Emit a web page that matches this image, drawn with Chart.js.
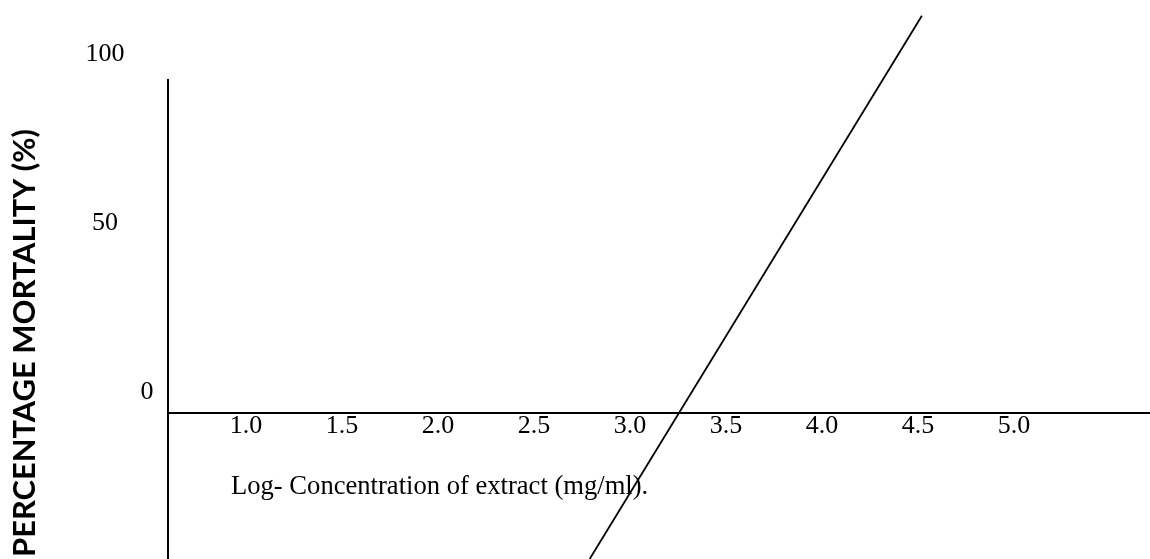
<!DOCTYPE html>
<html><head><meta charset="utf-8">
<script src="https://cdn.jsdelivr.net/npm/chart.js@4/dist/chart.umd.min.js"></script>
<style>html,body{margin:0;padding:0;background:#fff;overflow:hidden}</style>
</head><body><canvas id="c" width="1150" height="559"></canvas>
<script>
// ---- data ----
const xTicks = [1.0, 1.5, 2.0, 2.5, 3.0, 3.5, 4.0, 4.5, 5.0];
const yTicks = [0, 50, 100];
const logConcentration = [2.79, 4.52];
const mortality = [-43.2, 117.5];
const xTitle = 'Log- Concentration of extract (mg/ml).';
const yTitle = 'PERCENTAGE MORTALITY (%)';
const xRange = [0.594, 5.708];
const yRange = [-43.2, 98.5];

const SERIF = '"Liberation Serif", "Times New Roman", serif';

const annot = {
  id: 'annot',
  afterDraw(chart) {
    const { ctx, scales: { y } } = chart;
    ctx.save();
    ctx.fillStyle = '#000';
    // y tick labels
    ctx.font = '26px ' + SERIF;
    ctx.textAlign = 'center';
    ctx.textBaseline = 'middle';
    yTicks.forEach(v => {
      const py = y.getPixelForValue(v) - 21;
      const px = v === 0 ? 147 : 105;
      ctx.fillText(String(v), px, py);
    });
    // x title
    ctx.font = '26.6px ' + SERIF;
    ctx.textAlign = 'left';
    ctx.textBaseline = 'alphabetic';
    ctx.fillText(xTitle, 231, 494);
    // y title
    ctx.font = 'bold 28px Lato';
    const w = ctx.measureText(yTitle).width;
    const size = 28 * 428 / w;
    ctx.font = 'bold ' + size.toFixed(2) + 'px Lato';
    ctx.translate(25, 343);
    ctx.rotate(-Math.PI / 2);
    ctx.textAlign = 'center';
    ctx.textBaseline = 'middle';
    ctx.fillText(yTitle, 0, 0);
    ctx.restore();
  }
};

new Chart(document.getElementById('c'), {
  type: 'scatter',
  data: {
    datasets: [{
      data: logConcentration.map((v, i) => ({ x: v, y: mortality[i] })),
      showLine: true,
      borderColor: '#000',
      borderWidth: 1.8,
      pointRadius: 0,
      fill: false,
      clip: false
    }]
  },
  options: {
    responsive: false,
    devicePixelRatio: 1,
    animation: false,
    layout: { padding: { left: 168, top: 80, right: 0, bottom: 0 } },
    plugins: { legend: { display: false }, tooltip: { enabled: false } },
    scales: {
      x: {
        type: 'linear',
        min: xRange[0], max: xRange[1],
        position: { y: 0 },
        grid: { display: false, drawTicks: false },
        border: { display: true, color: '#000', width: 2 },
        afterBuildTicks: s => { s.ticks = xTicks.map(v => ({ value: v })); },
        ticks: {
          color: '#000',
          font: { family: SERIF, size: 26 },
          padding: -2,
          autoSkip: false,
          maxRotation: 0,
          callback: v => Number(v).toFixed(1)
        }
      },
      y: {
        type: 'linear',
        min: yRange[0], max: yRange[1],
        position: 'left',
        grid: { display: false, drawTicks: false },
        border: { display: true, color: '#000', width: 2 },
        ticks: { display: false }
      }
    }
  },
  plugins: [annot]
});
</script>
</body></html>
